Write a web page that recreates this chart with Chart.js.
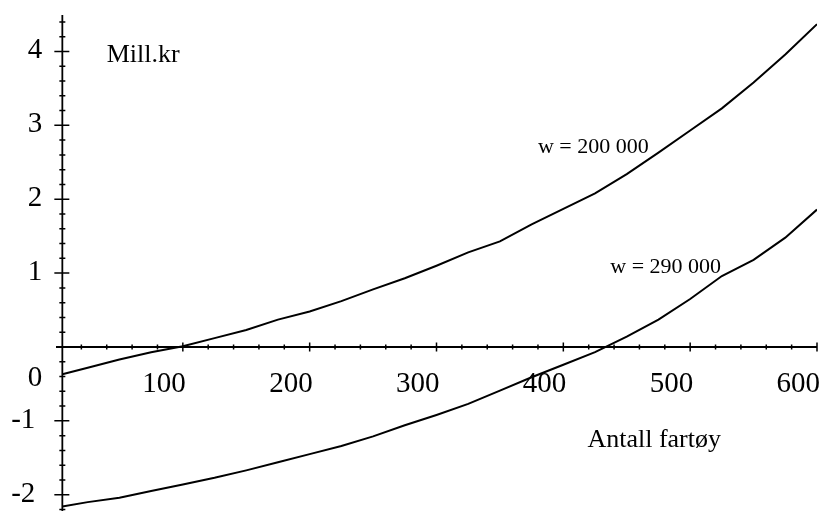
<!DOCTYPE html>
<html>
<head>
<meta charset="utf-8">
<script src="https://cdn.jsdelivr.net/npm/chart.js@4/dist/chart.umd.min.js"></script>
<style>
  html, body { margin: 0; padding: 0; background: #fff; }
  #wrap { width: 822px; height: 514px; }
</style>
</head>
<body>
<div id="wrap"><canvas id="chart" width="822" height="514"></canvas></div>
<script>
// Antall fartøy (x) against Mill.kr (y)
const antall = [5, 25, 50, 75, 100, 125, 150, 175, 200, 225, 250, 275, 300,
    325, 350, 375, 400, 425, 450, 475, 500, 525, 550, 575, 600];

const w200 = [-0.37, -0.28, -0.17, -0.07, 0.01, 0.12, 0.23, 0.37, 0.48, 0.62, 0.78, 0.93, 1.10,
    1.28, 1.43, 1.66, 1.87, 2.08, 2.34, 2.63, 2.93, 3.23, 3.58, 3.96, 4.37];

const w290 = [-2.16, -2.10, -2.04, -1.95, -1.86, -1.77, -1.67, -1.56, -1.45, -1.34, -1.21, -1.06, -0.92,
    -0.77, -0.59, -0.41, -0.24, -0.07, 0.14, 0.37, 0.65, 0.96, 1.18, 1.48, 1.86];

const xTickLabels = [100, 200, 300, 400, 500, 600];
const yTickLabels = [4, 3, 2, 1, 0, -1, -2];

const FONT = "'Liberation Serif', 'Times New Roman', serif";

function points(ys) {
    return antall.map((x, i) => ({ x: x, y: ys[i] }));
}

// axes crossing in the middle, with minor ticks, drawn from the scales
const axesPlugin = {
    id: 'maple-axes',
    beforeDatasetsDraw(chart) {
        const ctx = chart.ctx;
        const xs = chart.scales.x;
        const ys = chart.scales.y;
        const area = chart.chartArea;
        const y0 = ys.getPixelForValue(0);
        const xAxis = xs.getPixelForValue(5);

        ctx.save();
        ctx.strokeStyle = '#000';
        ctx.lineWidth = 1.8;

        ctx.beginPath();
        ctx.moveTo(xs.getPixelForValue(0), y0);
        ctx.lineTo(xs.getPixelForValue(600), y0);
        ctx.moveTo(xAxis, area.top - 1);
        ctx.lineTo(xAxis, area.bottom);
        ctx.stroke();

        ctx.lineWidth = 1.5;
        ctx.beginPath();
        for (let v = 20; v <= 600; v += 20) {
            const px = xs.getPixelForValue(v);
            const len = v % 100 === 0 ? 4.5 : 2.5;
            ctx.moveTo(px, y0 - len);
            ctx.lineTo(px, y0 + len);
        }
        for (let k = -11; k <= 22; k++) {
            if (k === 0) continue;
            const py = ys.getPixelForValue(k / 5);
            const major = k % 5 === 0;
            ctx.moveTo(xAxis - (major ? 8 : 3), py);
            ctx.lineTo(xAxis + (major ? 7 : 3), py);
        }
        ctx.stroke();

        ctx.fillStyle = '#000';
        ctx.font = '29px ' + FONT;
        ctx.textBaseline = 'alphabetic';
        ctx.textAlign = 'right';
        xTickLabels.forEach(v => {
            ctx.fillText(String(v), xs.getPixelForValue(v) + 3, y0 + 45);
        });
        yTickLabels.forEach(v => {
            const right = v < 0 ? xAxis - 27 : xAxis - 20;
            const base = v === 0 ? y0 + 39 : ys.getPixelForValue(v) + 7;
            ctx.fillText(String(v), right, base);
        });

        ctx.textAlign = 'left';
        ctx.font = '26px ' + FONT;
        ctx.fillText('Mill.kr', xs.getPixelForValue(40), ys.getPixelForValue(3.86));
        ctx.fillText('Antall fartøy', xs.getPixelForValue(419), ys.getPixelForValue(-1.36));
        ctx.font = '22px ' + FONT;
        ctx.fillText('w = 200 000', xs.getPixelForValue(380), ys.getPixelForValue(2.63));
        ctx.fillText('w = 290 000', xs.getPixelForValue(437), ys.getPixelForValue(1.0));
        ctx.restore();
    }
};

const data = {
    datasets: [
        {
            label: 'w = 200 000',
            data: points(w200),
            borderColor: '#000',
            borderWidth: 2,
            showLine: true,
            tension: 0,
            pointRadius: 0
        },
        {
            label: 'w = 290 000',
            data: points(w290),
            borderColor: '#000',
            borderWidth: 2,
            showLine: true,
            tension: 0,
            pointRadius: 0
        }
    ]
};

const options = {
    responsive: false,
    animation: false,
    layout: {
        padding: { left: 56, right: 5, top: 16, bottom: 3 }
    },
    scales: {
        x: { type: 'linear', min: 0, max: 600, display: false },
        y: { type: 'linear', min: -2.22, max: 4.48, display: false }
    },
    plugins: {
        legend: { display: false },
        tooltip: { enabled: false }
    }
};

const chart = new Chart(
    document.getElementById('chart'),
    { type: 'scatter', data: data, options: options, plugins: [axesPlugin] }
);
</script>
</body>
</html>
